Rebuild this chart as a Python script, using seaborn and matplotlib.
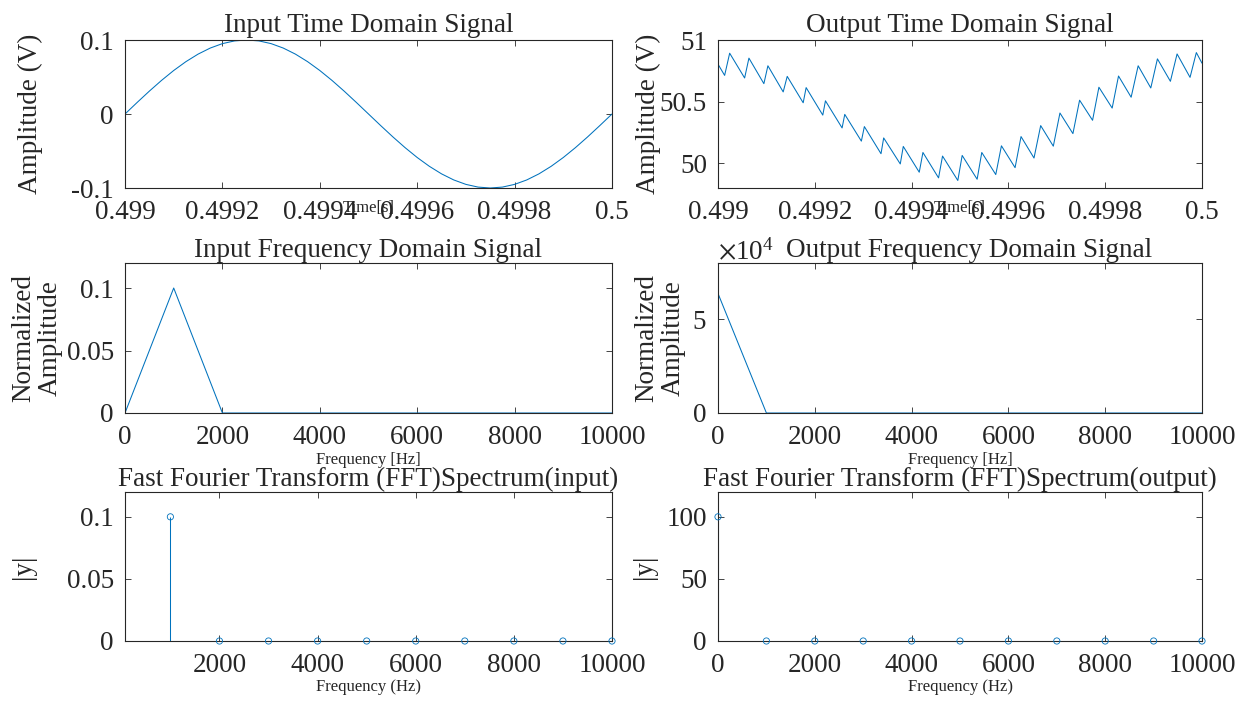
import numpy as np
import matplotlib
matplotlib.use("Agg")
import matplotlib.pyplot as plt
import seaborn as sns

# ---- data -------------------------------------------------------------
# input time-domain signal: one 1 kHz period sampled every 25 us
t_in_us = [0, 25, 50, 75, 100, 125, 150, 175, 200, 225, 250, 275, 300, 325,
           350, 375, 400, 425, 450, 475, 500, 525, 550, 575, 600, 625, 650,
           675, 700, 725, 750, 775, 800, 825, 850, 875, 900, 925, 950, 975,
           1000]
v_in = [0.0, 0.01564, 0.03090, 0.04540, 0.05878, 0.07071, 0.08090, 0.08910,
        0.09511, 0.09877, 0.1, 0.09877, 0.09511, 0.08910, 0.08090, 0.07071,
        0.05878, 0.04540, 0.03090, 0.01564, 0.0, -0.01564, -0.03090,
        -0.04540, -0.05878, -0.07071, -0.08090, -0.08910, -0.09511,
        -0.09877, -0.1, -0.09877, -0.09511, -0.08910, -0.08090, -0.07071,
        -0.05878, -0.04540, -0.03090, -0.01564, 0.0]

# output time-domain signal: switching ripple vertices
t_out_us = [0.0, 13.7, 24.1, 55.0, 63.9, 94.8, 103.1, 134.7, 143.0, 176.0,
            182.1, 216.5, 222.0, 256.4, 261.9, 296.2, 302.4, 336.8, 342.3,
            376.6, 382.8, 415.8, 423.4, 455.7, 463.9, 495.5, 504.5, 535.4,
            545.0, 573.9, 585.6, 613.8, 626.1, 652.9, 666.7, 692.8, 706.5,
            733.3, 747.1, 773.9, 787.0, 814.4, 827.5, 853.6, 868.1, 894.2,
            907.9, 934.7, 948.5, 975.3, 988.3, 1000.0]
v_out = [50.804, 50.713, 50.893, 50.692, 50.853, 50.646, 50.791, 50.579,
         50.705, 50.491, 50.614, 50.391, 50.507, 50.287, 50.397, 50.180,
         50.298, 50.078, 50.206, 49.995, 50.137, 49.928, 50.088, 49.882,
         50.059, 49.861, 50.064, 49.871, 50.088, 49.909, 50.142, 49.965,
         50.217, 50.043, 50.306, 50.139, 50.408, 50.241, 50.512, 50.349,
         50.617, 50.448, 50.708, 50.536, 50.791, 50.611, 50.847, 50.665,
         50.887, 50.697, 50.898, 50.812]

# frequency-domain amplitudes
freq_axis = [0, 1000, 2000, 3000, 4000, 5000, 6000, 7000, 8000, 9000, 10000]
amp_in = [0, 0.1, 0, 0, 0, 0, 0, 0, 0, 0, 0]
amp_out = [63750, 0, 0, 0, 0, 0, 0, 0, 0, 0, 0]

# FFT spectra (stem plots)
fft_in_freq = [1000, 2000, 3000, 4000, 5000, 6000, 7000, 8000, 9000, 10000]
fft_in_mag = [0.1, 0, 0, 0, 0, 0, 0, 0, 0, 0]
fft_out_freq = [0, 1000, 2000, 3000, 4000, 5000, 6000, 7000, 8000, 9000, 10000]
fft_out_mag = [100, 0, 0, 0, 0, 0, 0, 0, 0, 0, 0]

time_ticks = [0.499, 0.4992, 0.4994, 0.4996, 0.4998, 0.5]
time_tick_labels = ["0.499", "0.4992", "0.4994", "0.4996", "0.4998", "0.5"]

# ---- style ------------------------------------------------------------
sns.set_theme(style="ticks")
plt.rcParams["font.family"] = ["Liberation Serif", "DejaVu Serif"]
plt.rcParams["mathtext.fontset"] = "stix"
plt.rcParams["axes.unicode_minus"] = False
plt.rcParams.update({
    "axes.linewidth": 0.8,
    "axes.edgecolor": "#262626",
    "xtick.direction": "in",
    "ytick.direction": "in",
    "xtick.top": True,
    "ytick.right": True,
    "xtick.major.size": 4,
    "ytick.major.size": 4,
    "xtick.major.width": 0.6,
    "ytick.major.width": 0.6,
    "xtick.color": "#262626",
    "ytick.color": "#262626",
    "text.color": "#262626",
})

BLUE = "#0072BD"
LW = 0.75
TICK_FS = 19.5
TITLE_FS = 19.5
YLAB_FS = 19.5
XLAB_FS = 12

W, H = 1244, 701
fig = plt.figure(figsize=(W / 100, H / 100), dpi=100)


def box(x0, x1, y0, y1):
    return [x0 / W, 1 - y1 / H, (x1 - x0) / W, (y1 - y0) / H]


LEFT = (125, 612)
RIGHT = (718, 1202)
ROWS = [(40, 188), (263, 413), (492, 641)]

axes = {}
for r, (y0, y1) in enumerate(ROWS):
    axes[(r, 0)] = fig.add_axes(box(*LEFT, y0, y1))
    axes[(r, 1)] = fig.add_axes(box(*RIGHT, y0, y1))


def finish(ax, title, xlabel, xlab_y, ylabel, ylab_x, title_pad=3,
           title_x=0.5):
    ax.set_title(title, fontsize=TITLE_FS, pad=title_pad, x=title_x)
    ax.set_xlabel(xlabel, fontsize=XLAB_FS)
    ax.xaxis.set_label_coords(0.5, xlab_y)
    ax.set_ylabel(ylabel, fontsize=YLAB_FS, linespacing=1.1)
    ax.yaxis.set_label_coords(ylab_x, 0.5)
    ax.tick_params(axis="both", labelsize=TICK_FS)
    ax.tick_params(axis="x", pad=8.5)
    ax.tick_params(axis="y", pad=8)
    for s in ax.spines.values():
        s.set_visible(True)


# Row 1: time-domain signals
ax = axes[(0, 0)]
sns.lineplot(x=[0.499 + u * 1e-6 for u in t_in_us], y=v_in, ax=ax,
             color=BLUE, linewidth=LW, estimator=None)
ax.set_xlim(0.499, 0.5)
ax.set_ylim(-0.1, 0.1)
ax.set_xticks(time_ticks, time_tick_labels)
ax.set_yticks([-0.1, 0, 0.1], ["-0.1", "0", "0.1"])
finish(ax, "Input Time Domain Signal", "Time[s]", -0.08,
       "Amplitude (V)", -0.168, title_pad=6)

ax = axes[(0, 1)]
sns.lineplot(x=[0.499 + u * 1e-6 for u in t_out_us], y=v_out, ax=ax,
             color=BLUE, linewidth=LW, estimator=None)
ax.set_xlim(0.499, 0.5)
ax.set_ylim(49.8, 51)
ax.set_xticks(time_ticks, time_tick_labels)
ax.set_yticks([50, 50.5, 51], ["50", "50.5", "51"])
finish(ax, "Output Time Domain Signal", "Time[s]", -0.08,
       "Amplitude (V)", -0.118, title_pad=6)

# Row 2: frequency-domain amplitude
ax = axes[(1, 0)]
sns.lineplot(x=freq_axis, y=amp_in, ax=ax, color=BLUE, linewidth=LW,
             estimator=None)
ax.set_xlim(0, 10000)
ax.set_ylim(0, 0.12)
ax.set_xticks(range(0, 10001, 2000))
ax.set_yticks([0, 0.05, 0.1], ["0", "0.05", "0.1"])
finish(ax, "Input Frequency Domain Signal", "Frequency [Hz]", -0.26,
       "Normalized\nAmplitude", -0.127)

ax = axes[(1, 1)]
sns.lineplot(x=freq_axis, y=amp_out, ax=ax, color=BLUE, linewidth=LW,
             estimator=None)
ax.set_xlim(0, 10000)
ax.set_ylim(0, 80000)
ax.set_xticks(range(0, 10001, 2000))
ax.set_yticks([0, 50000])
ax.ticklabel_format(axis="y", style="sci", scilimits=(0, 0), useMathText=True)
ax.yaxis.get_offset_text().set_fontsize(TICK_FS)
finish(ax, "Output Frequency Domain Signal", "Frequency [Hz]", -0.26,
       "Normalized\nAmplitude", -0.066, title_x=0.519)

# Row 3: FFT stem spectra
ax = axes[(2, 0)]
ax.vlines(fft_in_freq, 0, fft_in_mag, color=BLUE, linewidth=LW)
sns.scatterplot(x=fft_in_freq, y=fft_in_mag, ax=ax, marker="o", s=20,
                facecolor="none", edgecolor=BLUE, linewidth=0.6,
                clip_on=False, zorder=3)
ax.set_xlim(75, 10000)
ax.set_ylim(0, 0.12)
ax.set_xticks(range(2000, 10001, 2000))
ax.set_yticks([0, 0.05, 0.1], ["0", "0.05", "0.1"])
finish(ax, "Fast Fourier Transform (FFT)Spectrum(input)", "Frequency (Hz)",
       -0.255, "|y|", -0.183, title_pad=1)

ax = axes[(2, 1)]
ax.vlines(fft_out_freq, 0, fft_out_mag, color=BLUE, linewidth=LW)
sns.scatterplot(x=fft_out_freq, y=fft_out_mag, ax=ax, marker="o", s=20,
                facecolor="none", edgecolor=BLUE, linewidth=0.6,
                clip_on=False, zorder=3)
ax.set_xlim(0, 10000)
ax.set_ylim(0, 120)
ax.set_xticks(range(0, 10001, 2000))
ax.set_yticks([0, 50, 100])
finish(ax, "Fast Fourier Transform (FFT)Spectrum(output)", "Frequency (Hz)",
       -0.255, "|y|", -0.126, title_pad=1)

fig.savefig("out.png", dpi=100, facecolor="white")
